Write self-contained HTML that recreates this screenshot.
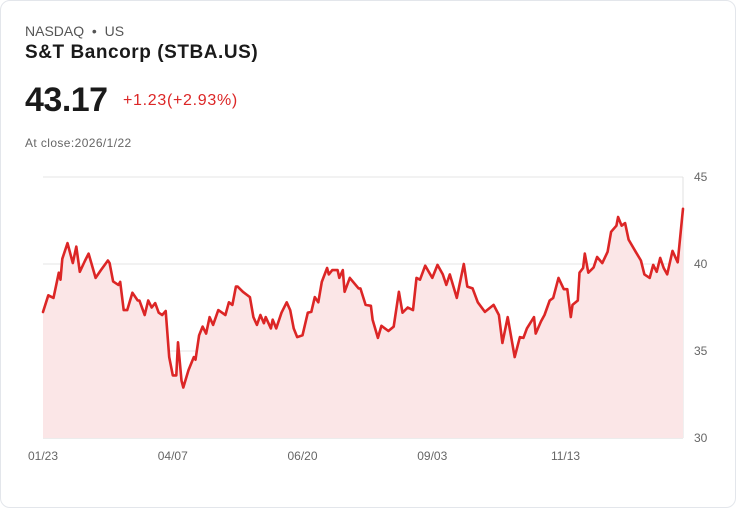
<!DOCTYPE html>
<html><head><meta charset="utf-8"><style>
html,body{margin:0;padding:0;background:#fff;}
body{width:736px;height:508px;position:relative;font-family:"Liberation Sans",sans-serif;overflow:hidden;}
.card{position:absolute;left:0;top:0;width:734px;height:506px;border:1px solid #e3e6eb;border-radius:10px;background:#fff;}
.t{position:absolute;white-space:nowrap;}
</style></head><body>
<div class="card"></div>
<div class="t" style="left:25px;top:23px;font-size:14px;color:#555;">NASDAQ &nbsp;•&nbsp; US</div>
<div class="t" style="left:25px;top:42px;font-size:19px;font-weight:bold;color:#1a1a1a;letter-spacing:0.55px;">S&amp;T Bancorp (STBA.US)</div>
<div class="t" style="left:25px;top:81px;font-size:34px;font-weight:bold;color:#1a1a1a;letter-spacing:-0.5px;">43.17</div>
<div class="t" style="left:123px;top:92px;font-size:16px;color:#dc2626;letter-spacing:0.7px;">+1.23(+2.93%)</div>
<div class="t" style="left:25px;top:136px;font-size:12px;color:#666;letter-spacing:0.4px;">At close:2026/1/22</div>
<svg id="chart" width="736" height="508" style="position:absolute;left:0;top:0;"></svg>
<script>
const days=[0,3,6,9,10,11,14,17,19,21,24,26,30,33,37,38,40,43,44,46,48,51,54,55,58,60,62,64,66,68,70,72,74,76,77,79,80,83,86,87,89,91,93,95,97,100,104,106,108,110,111,114,118,120,122,124,126,127,130,131,133,136,139,141,143,145,148,151,153,155,157,159,162,163,165,168,169,171,172,175,180,181,184,187,188,191,193,197,200,203,205,208,211,213,215,218,222,225,228,230,232,236,240,242,245,248,252,257,260,262,265,269,272,274,276,280,281,284,286,289,291,294,297,299,301,302,305,306,308,309,311,314,316,319,322,324,327,328,330,332,334,338,341,343,346,348,350,352,354,356,359,362,365];
const prices=[37.24,38.2,38.05,39.5,39.1,40.3,41.2,40.05,41.0,39.55,40.2,40.6,39.2,39.65,40.2,40.05,39.0,38.8,38.97,37.35,37.35,38.35,37.9,37.9,37.07,37.9,37.5,37.75,37.2,37.07,37.3,34.65,33.6,33.6,35.5,33.3,32.9,33.9,34.65,34.5,35.9,36.4,36.0,36.95,36.5,37.35,37.07,37.8,37.65,38.7,38.7,38.4,38.1,36.95,36.5,37.07,36.6,36.95,36.3,36.8,36.3,37.2,37.8,37.35,36.3,35.8,35.9,37.2,37.25,38.1,37.8,38.97,39.77,39.4,39.65,39.65,39.2,39.65,38.4,39.2,38.6,38.6,37.65,37.6,36.8,35.75,36.45,36.15,36.4,38.4,37.2,37.5,37.35,39.2,39.1,39.9,39.2,39.95,39.4,38.8,39.4,38.05,40.0,38.7,38.6,37.8,37.25,37.65,37.07,35.46,36.95,34.65,35.8,35.75,36.3,36.95,36.0,36.7,37.07,37.9,38.05,39.2,38.55,38.55,36.95,37.65,37.9,39.5,39.77,40.6,39.5,39.8,40.4,40.05,40.7,41.85,42.2,42.7,42.2,42.35,41.4,40.7,40.2,39.4,39.2,39.95,39.55,40.35,39.77,39.4,40.75,40.1,43.17];
const yTicks=[30,35,40,45];
const xTickDays=[0,74,148,222,298];
const xTickLabels=["01/23","04/07","06/20","09/03","11/13"];
const X0=43,X1=683,Y0=438,Y1=177,DMAX=365,VMIN=30,VMAX=45;
const xs=d=>X0+(d/DMAX)*(X1-X0);
const ys=v=>Y0-(v-VMIN)/(VMAX-VMIN)*(Y0-Y1);
const svg=document.getElementById('chart');
const NS='http://www.w3.org/2000/svg';
function mk(tag,attrs){const e=document.createElementNS(NS,tag);for(const k in attrs)e.setAttribute(k,attrs[k]);svg.appendChild(e);return e;}
yTicks.forEach(v=>{
  const l=mk('line',{x1:X0,x2:X1,y1:ys(v),y2:ys(v),stroke:v===VMIN?'#d8d8d8':'#e6e6e6','stroke-width':1});
  
  
  const t=mk('text',{x:694,y:ys(v)+4,'font-size':12,fill:'#666','font-family':'Liberation Sans, sans-serif'});
  t.textContent=v;
  
  
});
const ax=mk('line',{x1:X1,x2:X1,y1:Y1,y2:Y0,stroke:'#e0e0e0','stroke-width':1});


xTickDays.forEach((d,i)=>{
  const t=mk('text',{x:xs(d),y:460,'font-size':12,fill:'#666','text-anchor':'middle','font-family':'Liberation Sans, sans-serif'});
  t.textContent=xTickLabels[i];
  
  
});
let pts=days.map((d,i)=>xs(d).toFixed(1)+','+ys(prices[i]).toFixed(1));
const area=mk('path',{d:'M'+xs(days[0])+','+Y0+' L'+pts.join(' L')+' L'+xs(days[days.length-1])+','+Y0+' Z',fill:'#fbe6e7'});


const line=mk('path',{d:'M'+pts.join(' L'),fill:'none',stroke:'#dc2626','stroke-width':2.6,'stroke-linejoin':'round','stroke-linecap':'round'});


</script>
</body></html>
